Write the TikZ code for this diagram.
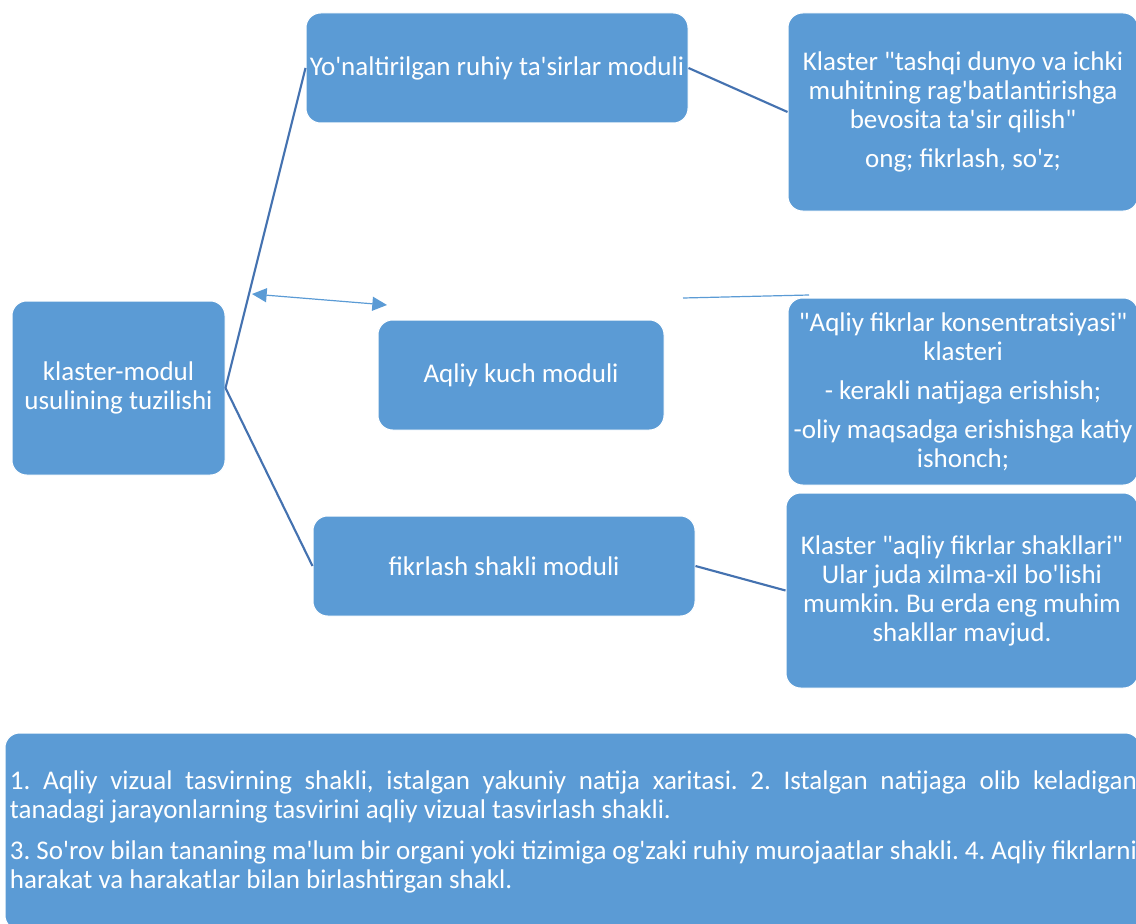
\documentclass[tikz,border=0pt]{standalone}
\usepackage{fontspec}
\setmainfont{Carlito}[Ligatures=TeXOff]
\usepackage{xcolor}
\usetikzlibrary{arrows.meta}

\definecolor{boxblue}{RGB}{91,155,213}
\definecolor{lineblue}{RGB}{68,114,176}
\frenchspacing

\begin{document}
\begin{tikzpicture}[x=0.75pt,y=0.75pt,yscale=-1,xscale=1,
    modbox/.style={fill=boxblue, draw=white, line width=0.75pt, rounded corners=11pt,
      text=white, align=center, inner sep=0pt, font=\fontsize{20.25}{21.75}\selectfont},
    conn/.style={draw=lineblue, line width=1.6pt},
    thinconn/.style={draw=boxblue, line width=0.9pt}]
    \path[use as bounding box, clip] (0,0) rectangle (1136,924);

    %Rounded Rect: left
    \node[modbox, minimum width=159.75pt, minimum height=130.5pt] (klaster) at (118.5,388) {klaster-modul\\usulining tuzilishi};
    %Rounded Rect: middle column
    \node[modbox, minimum width=286.5pt, minimum height=82.5pt] (yonaltir) at (497,68) {Yo'naltirilgan ruhiy ta'sirlar moduli};
    \node[modbox, minimum width=214.5pt, minimum height=82.5pt] (aqliy) at (521,375) {Aqliy kuch moduli};
    \node[modbox, minimum width=286.5pt, minimum height=75pt] (fikrlash) at (504,566) {fikrlash shakli moduli};
    %Rounded Rect: right column
    \node[modbox, minimum width=262.5pt, minimum height=148.5pt] (klastA) at (963,112)
      {Klaster "tashqi dunyo va ichki\\muhitning rag'batlantirishga\\bevosita ta'sir qilish"\\[7.5pt]ong; fikrlash, so'z;};
    \node[modbox, minimum width=262.5pt, minimum height=140.25pt] (klastB) at (963,391.5)
      {"Aqliy fikrlar konsentratsiyasi"\\klasteri\\[7.5pt]- kerakli natijaga erishish;\\[7.5pt]-oliy maqsadga erishishga katiy\\ishonch;};
    \node[modbox, minimum width=264pt, minimum height=146.25pt] (klastC) at (962,590.5)
      {Klaster "aqliy fikrlar shakllari"\\Ular juda xilma-xil bo'lishi\\mumkin. Bu erda eng muhim\\shakllar mavjud.};
    %Rounded Rect: bottom
    \node[modbox, minimum width=851.25pt, minimum height=147.75pt] (izoh) at (572.5,831.5) {};
    % Text Node
    \node[text=white, align=left, inner sep=0pt, font=\fontsize{20.25}{21.75}\selectfont] (izohmatn) at (573.5,831.5)
      {\makebox[845.25pt][s]{1. Aqliy vizual tasvirning shakli, istalgan yakuniy natija xaritasi. 2. Istalgan natijaga olib keladigan}\\
       tanadagi jarayonlarning tasvirini aqliy vizual tasvirlash shakli.\\[9pt]
       \makebox[845.25pt][s]{3. So'rov bilan tananing ma'lum bir organi yoki tizimiga og'zaki ruhiy murojaatlar shakli. 4. Aqliy fikrlarni}\\
       harakat va harakatlar bilan birlashtirgan shakl.};

    %Straight Lines
    \draw[conn] (klaster.east) -- (yonaltir.west);
    \draw[conn] (klaster.east) -- (fikrlash.west);
    \draw[conn] (yonaltir.east) -- (klastA.west);
    \draw[conn] (fikrlash.east) -- (klastC.west);

    %Free lines
    \coordinate (uchA) at (252,294);
    \coordinate (uchB) at (387,305);
    \draw[thinconn, {Triangle[length=11pt,width=10.5pt]}-{Triangle[length=11pt,width=10.5pt]}] (uchA) -- (uchB);
    \coordinate (chiziqA) at (683,298);
    \coordinate (chiziqB) at (809,295);
    \draw[thinconn] (chiziqA) -- (chiziqB);

\end{tikzpicture}
\end{document}
